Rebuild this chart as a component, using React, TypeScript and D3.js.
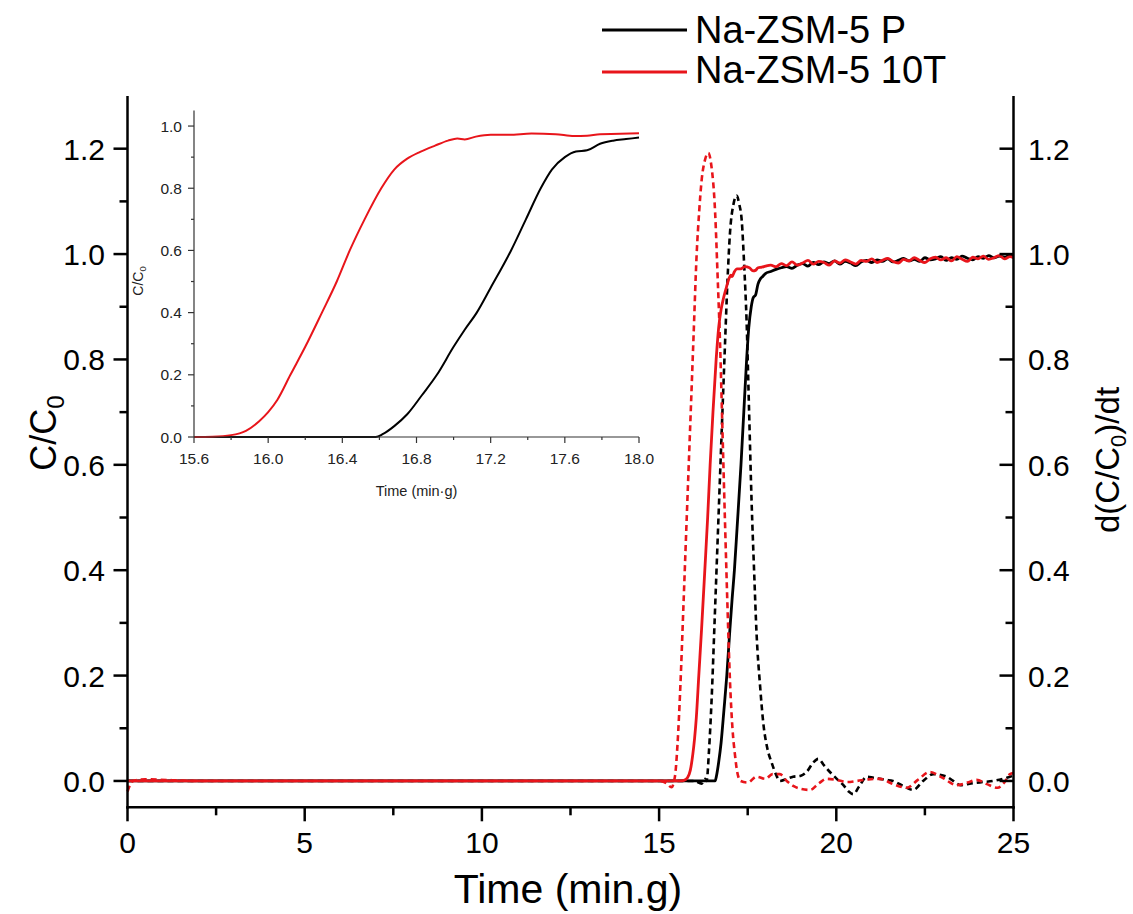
import React from "react";
import * as d3 from "d3";

// ---------- DATA ----------
const seriesNames = ["Na-ZSM-5 P", "Na-ZSM-5 10T"];

// C/C0 breakthrough, Na-ZSM-5 10T (red, solid)
const redTime = [0, 1, 3, 5, 7, 9, 11, 13, 15, 15.6, 15.7, 15.8, 15.88, 15.95, 16.0, 16.05, 16.12, 16.2, 16.29, 16.37, 16.44, 16.52, 16.61, 16.68, 16.75, 16.82, 16.9, 16.97, 17.02, 17.06, 17.12, 17.2, 17.3, 17.42, 17.55, 17.65, 17.72, 17.79, 17.9, 18.0,
  18.15, 18.3, 18.45, 18.6, 18.75, 18.9, 19.05, 19.2, 19.35, 19.5, 19.65, 19.8, 19.95, 20.1, 20.25, 20.4, 20.55, 20.7, 20.85, 21.0, 21.15, 21.3, 21.45, 21.6, 21.75, 21.9, 22.05, 22.2, 22.35, 22.5, 22.65, 22.8, 22.95, 23.1, 23.25, 23.4, 23.55, 23.7, 23.85, 24.0, 24.15, 24.3, 24.45, 24.6, 24.75, 24.9, 25.0];
const redC = [0, 0, 0, 0, 0, 0, 0, 0, 0, 0, 0.001, 0.006, 0.02, 0.05, 0.08, 0.12, 0.2, 0.29, 0.4, 0.5, 0.6, 0.7, 0.8, 0.86, 0.895, 0.917, 0.937, 0.953, 0.96, 0.957, 0.966, 0.972, 0.972, 0.976, 0.974, 0.968, 0.969, 0.974, 0.975, 0.977,
  0.979, 0.976, 0.982, 0.978, 0.985, 0.979, 0.983, 0.988, 0.981, 0.986, 0.984, 0.979, 0.987, 0.983, 0.989, 0.985, 0.981, 0.988, 0.986, 0.991, 0.984, 0.988, 0.992, 0.986, 0.983, 0.99, 0.987, 0.993, 0.988, 0.984, 0.991, 0.994, 0.989, 0.993, 0.987, 0.995, 0.99, 0.986, 0.994, 0.991, 0.996, 0.99, 0.993, 0.997, 0.991, 0.995, 0.993];

// C/C0 breakthrough, Na-ZSM-5 P (black, solid)
const blackTime = [0, 2, 4, 6, 8, 10, 12, 14, 15.6, 16.0, 16.3, 16.58, 16.62, 16.68, 16.75, 16.83, 16.91, 17.0, 17.06, 17.125, 17.2, 17.31, 17.39, 17.47, 17.53, 17.6, 17.66, 17.72, 17.79, 17.86, 17.93, 18.0,
  18.15, 18.3, 18.45, 18.6, 18.75, 18.9, 19.05, 19.2, 19.35, 19.5, 19.65, 19.8, 19.95, 20.1, 20.25, 20.4, 20.55, 20.7, 20.85, 21.0, 21.15, 21.3, 21.45, 21.6, 21.75, 21.9, 22.05, 22.2, 22.35, 22.5, 22.65, 22.8, 22.95, 23.1, 23.25, 23.4, 23.55, 23.7, 23.85, 24.0, 24.15, 24.3, 24.45, 24.6, 24.75, 24.9, 25.0];
const blackC = [0, 0, 0, 0, 0, 0, 0, 0, 0, 0, 0, 0, 0.01, 0.035, 0.073, 0.135, 0.2, 0.29, 0.345, 0.4, 0.48, 0.6, 0.7, 0.8, 0.86, 0.9, 0.918, 0.922, 0.943, 0.953, 0.958, 0.963,
  0.967, 0.971, 0.974, 0.976, 0.973, 0.979, 0.982, 0.977, 0.984, 0.98, 0.985, 0.982, 0.987, 0.981, 0.986, 0.983, 0.978, 0.985, 0.988, 0.984, 0.989, 0.986, 0.991, 0.985, 0.988, 0.992, 0.987, 0.99, 0.986, 0.993, 0.989, 0.991, 0.995, 0.988, 0.993, 0.99, 0.996, 0.992, 0.989, 0.995, 0.992, 0.997, 0.993, 0.996, 0.994, 0.998, 0.996];

// d(C/C0)/dt, Na-ZSM-5 10T (red, dashed)
const redDTime = [0, 0.15, 0.5, 2, 5, 8, 11, 14, 15.0, 15.2, 15.35, 15.45, 15.52, 15.6, 15.68, 15.78, 15.87, 15.97, 16.06, 16.13, 16.2, 16.3, 16.39, 16.47, 16.58, 16.65, 16.72, 16.79, 16.86, 16.93, 17.0, 17.07, 17.14, 17.21, 17.3, 17.5, 17.75, 18.0, 18.2, 18.41, 18.6, 18.8, 19.0, 19.26, 19.5, 19.73, 20.0, 20.3, 20.58, 20.9, 21.23, 21.6, 21.99, 22.3, 22.64, 23.0, 23.4, 23.7, 23.96, 24.25, 24.55, 24.75, 24.9, 25.0];
const redD = [-0.02, 0, 0.003, 0, 0, 0, 0, 0, 0, -0.004, -0.012, 0.01, 0.07, 0.18, 0.32, 0.5, 0.66, 0.84, 1.0, 1.08, 1.14, 1.18, 1.192, 1.17, 1.08, 0.96, 0.83, 0.66, 0.49, 0.33, 0.19, 0.1, 0.05, 0.015, 0, -0.003, 0.008, 0.004, 0.013, 0.013, 0.0, -0.01, -0.015, -0.017, -0.005, 0.004, 0.002, -0.002, 0, 0.003, 0.004, -0.006, -0.013, 0.002, 0.017, 0.006, -0.008, -0.003, 0.002, -0.006, -0.013, -0.002, 0.013, 0.015];

// d(C/C0)/dt, Na-ZSM-5 P (black, dashed)
const blackDTime = [0, 2, 5, 8, 11, 14, 16.0, 16.2, 16.3, 16.34, 16.41, 16.48, 16.57, 16.67, 16.77, 16.86, 16.93, 17.0, 17.1, 17.19, 17.26, 17.33, 17.4, 17.47, 17.54, 17.61, 17.68, 17.75, 17.85, 17.94, 18.06, 18.18, 18.3, 18.41, 18.6, 18.78, 19.0, 19.16, 19.35, 19.49, 19.65, 19.82, 20.0, 20.2, 20.35, 20.48, 20.65, 20.86, 21.05, 21.23, 21.4, 21.6, 21.9, 22.17, 22.45, 22.74, 22.9, 23.12, 23.3, 23.5, 23.87, 24.15, 24.43, 24.7, 24.9, 25.0];
const blackD = [0, 0, 0, 0, 0, 0, 0, -0.005, 0.004, 0, 0.06, 0.152, 0.31, 0.49, 0.67, 0.83, 0.95, 1.04, 1.095, 1.111, 1.095, 1.065, 0.98, 0.87, 0.7, 0.53, 0.4, 0.28, 0.18, 0.11, 0.06, 0.034, 0.012, 0, 0.004, 0.008, 0.01, 0.017, 0.035, 0.042, 0.03, 0.017, 0.005, -0.008, -0.02, -0.025, -0.01, 0.008, 0.006, 0.004, 0.002, 0, -0.01, -0.017, 0, 0.013, 0.012, 0.008, 0, -0.008, -0.004, -0.002, 0, 0.004, 0.008, 0.01];

const xTicks = [0, 5, 10, 15, 20, 25];
const yTicks = [0, 0.2, 0.4, 0.6, 0.8, 1.0, 1.2];
const insetXTicks = [15.6, 16.0, 16.4, 16.8, 17.2, 17.6, 18.0];
const insetYTicks = [0, 0.2, 0.4, 0.6, 0.8, 1.0];

// ---------- STYLE ----------
const RED = "#e8151b";
const BLACK = "#000";
const FONT = "'Liberation Sans', Arial, sans-serif";

type P = [number, number];
const zip = (t: number[], v: number[]): P[] => t.map((x, i) => [x, v[i]]);

export default function App() {
  const W = 1133, H = 914;
  const x = d3.scaleLinear().domain([0, 25]).range([127.5, 1013.5]);
  const y = d3.scaleLinear().domain([-0.05, 1.3]).range([807.3, 96]);

  const ix = d3.scaleLinear().domain([15.6, 18.0]).range([194, 639]);
  const iy = d3.scaleLinear().domain([0, 1.05]).range([437, 110.5]);

  const line = d3.line<P>().x(d => x(d[0])).y(d => y(d[1])).curve(d3.curveMonotoneX);
  const iline = d3.line<P>().x(d => ix(d[0])).y(d => iy(d[1])).curve(d3.curveMonotoneX);

  const red = zip(redTime, redC);
  const black = zip(blackTime, blackC);
  const redDer = zip(redDTime, redD);
  const blackDer = zip(blackDTime, blackD);
  const inRange = (d: P) => d[0] >= 15.6 && d[0] <= 18.0;

  const xMinor = d3.range(0, 25.001, 2.5).filter(v => !xTicks.includes(v));
  const yMinor = d3.range(-0.0, 1.3, 0.1).map(v => +v.toFixed(2)).filter(v => !yTicks.some(t => Math.abs(t - v) < 1e-6));
  const ixMinor = d3.range(15.8, 18.0, 0.4).map(v => +v.toFixed(2));
  const iyMinor = [0.1, 0.3, 0.5, 0.7, 0.9];

  const L = x(0), R = x(25), B = y(-0.05), T = y(1.3);
  const axisW = 2.5;
  const fmt = d3.format(".1f");

  return (
    <svg width={W} height={H} style={{ position: "absolute", left: 0, top: 0, background: "#fff" }} fontFamily={FONT}>
      <rect x={0} y={0} width={W} height={H} fill="#fff" />
      {/* data curves */}
      <path d={line(blackDer)!} fill="none" stroke={BLACK} strokeWidth={2.6} strokeDasharray="6,4" />
      <path d={line(black)!} fill="none" stroke={BLACK} strokeWidth={2.8} />
      <path d={line(redDer)!} fill="none" stroke={RED} strokeWidth={2.6} strokeDasharray="6,4" />
      <path d={line(red)!} fill="none" stroke={RED} strokeWidth={2.8} />

      {/* main axes */}
      <g stroke={BLACK} strokeWidth={axisW} fill="none">
        <line x1={L} y1={T} x2={L} y2={B + axisW / 2} />
        <line x1={R} y1={T} x2={R} y2={B + axisW / 2} />
        <line x1={L - axisW / 2} y1={B} x2={R + axisW / 2} y2={B} />
        {xTicks.map(v => <line key={"xt" + v} x1={x(v)} x2={x(v)} y1={B} y2={B + 14} />)}
        {xMinor.map(v => <line key={"xm" + v} x1={x(v)} x2={x(v)} y1={B} y2={B + 8} />)}
        {yTicks.map(v => <line key={"ylt" + v} x1={L - 14} x2={L} y1={y(v)} y2={y(v)} />)}
        {yMinor.map(v => <line key={"ylm" + v} x1={L - 8} x2={L} y1={y(v)} y2={y(v)} />)}
        {yTicks.map(v => <line key={"yrt" + v} x1={R - 14} x2={R} y1={y(v)} y2={y(v)} />)}
        {yMinor.map(v => <line key={"yrm" + v} x1={R - 8} x2={R} y1={y(v)} y2={y(v)} />)}
      </g>
      <g fontSize={30} fill={BLACK}>
        {xTicks.map(v => <text key={"xl" + v} x={x(v)} y={853} textAnchor="middle">{v}</text>)}
        {yTicks.map(v => <text key={"yl" + v} x={105} y={y(v) + 11} textAnchor="end">{fmt(v)}</text>)}
        {yTicks.map(v => <text key={"yr" + v} x={1028} y={y(v) + 11} textAnchor="start">{fmt(v)}</text>)}
      </g>
      <text x={568} y={903} textAnchor="middle" fontSize={41}>Time (min.g)</text>
      <text transform={`translate(56,433) rotate(-90)`} textAnchor="middle" fontSize={36}>
        C/C<tspan fontSize={24} dy={8}>0</tspan>
      </text>
      <text transform={`translate(1119,460) rotate(-90)`} textAnchor="middle" fontSize={33}>
        d(C/C<tspan fontSize={22} dy={7}>0</tspan><tspan dy={-7}>)/dt</tspan>
      </text>

      {/* legend */}
      <line x1={602} x2={687} y1={30} y2={30} stroke={BLACK} strokeWidth={3} />
      <text x={695} y={43} fontSize={38}>{seriesNames[0]}</text>
      <line x1={602} x2={687} y1={72} y2={72} stroke={RED} strokeWidth={3} />
      <text x={695} y={83} fontSize={38}>{seriesNames[1]}</text>

      {/* inset */}
      <path d={iline(black.filter(inRange))!} fill="none" stroke={BLACK} strokeWidth={2} />
      <path d={iline(red.filter(inRange))!} fill="none" stroke={RED} strokeWidth={2} />
      <g stroke="#333" strokeWidth={1.2} fill="none">
        <line x1={ix(15.6)} x2={ix(15.6)} y1={iy(1.05)} y2={iy(0)} />
        <line x1={ix(15.6)} x2={ix(18.0)} y1={iy(0)} y2={iy(0)} />
        {insetXTicks.map(v => <line key={"ixt" + v} x1={ix(v)} x2={ix(v)} y1={iy(0)} y2={iy(0) + 6} />)}
        {ixMinor.map(v => <line key={"ixm" + v} x1={ix(v)} x2={ix(v)} y1={iy(0)} y2={iy(0) + 3} />)}
        {insetYTicks.map(v => <line key={"iyt" + v} x1={ix(15.6) - 6} x2={ix(15.6)} y1={iy(v)} y2={iy(v)} />)}
        {iyMinor.map(v => <line key={"iym" + v} x1={ix(15.6) - 3} x2={ix(15.6)} y1={iy(v)} y2={iy(v)} />)}
      </g>
      <g fontSize={15.5} fill="#222">
        {insetXTicks.map(v => <text key={"ixl" + v} x={ix(v)} y={464} textAnchor="middle">{fmt(v)}</text>)}
        {insetYTicks.map(v => <text key={"iyl" + v} x={182} y={iy(v) + 5.5} textAnchor="end">{fmt(v)}</text>)}
      </g>
      <text x={ix(16.8)} y={496} textAnchor="middle" fontSize={14.5} fill="#222">Time (min·g)</text>
      <text transform={`translate(143,281) rotate(-90)`} textAnchor="middle" fontSize={14} fill="#222">
        C/C<tspan fontSize={9.5} dy={3}>0</tspan>
      </text>
    </svg>
  );
}
